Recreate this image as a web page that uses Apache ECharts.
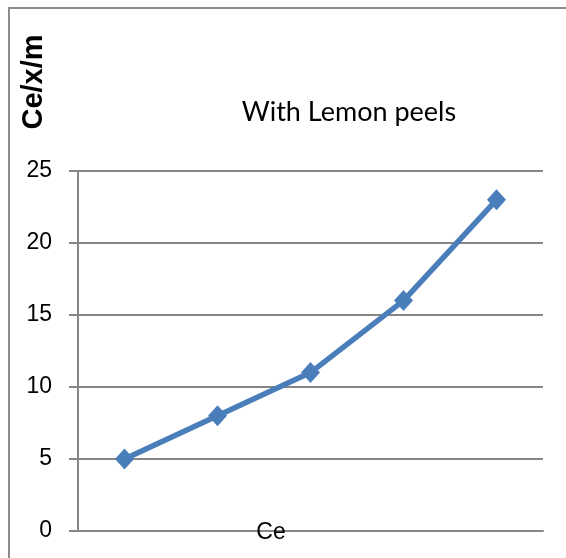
<!DOCTYPE html>
<html>
<head>
<meta charset="utf-8">
<script src="https://cdn.jsdelivr.net/npm/echarts@6/dist/echarts.min.js"></script>
<style>
html,body{margin:0;padding:0;background:#fff;}
#chart{width:566px;height:558px;}
</style>
</head>
<body>
<div id="chart"></div>
<script>
var categories = ['1', '2', '3', '4', '5'];
var values = [5, 8, 11, 16, 23];
var yTicks = [0, 5, 10, 15, 20, 25];
var titleText = 'With Lemon peels';
var yName = 'Ce/x/m';
var xName = 'Ce';

var chart = echarts.init(document.getElementById('chart'), null, {renderer: 'canvas'});
chart.setOption({
  animation: false,
  backgroundColor: '#ffffff',
  graphic: [
    {type: 'polyline', shape: {points: [[9, 558], [9, 8], [566, 8]]}, style: {stroke: '#8c8c8c', lineWidth: 2, fill: null}, z: 0},
    {type: 'text', x: 349, y: 112, style: {text: titleText, font: '27px Lato', fill: '#000', align: 'center', verticalAlign: 'middle'}},
    {type: 'text', x: 34, y: 82, rotation: Math.PI / 2, style: {text: yName, font: 'bold 29px "Liberation Sans"', fill: '#000', align: 'center', verticalAlign: 'middle'}},
    {type: 'text', x: 271, y: 533, style: {text: xName, font: '23px "Liberation Sans"', fill: '#000', align: 'center', verticalAlign: 'middle'}, z: 10}
  ],
  grid: {left: 78, right: 23, top: 171, bottom: 27, containLabel: false},
  xAxis: {
    type: 'category',
    data: categories,
    boundaryGap: true,
    axisLine: {show: true, lineStyle: {color: '#868686', width: 2}},
    axisTick: {show: false},
    axisLabel: {show: false},
    splitLine: {show: false}
  },
  yAxis: {
    type: 'value',
    min: yTicks[0],
    max: yTicks[yTicks.length - 1],
    interval: 5,
    axisLine: {show: true, lineStyle: {color: '#868686', width: 2}},
    axisTick: {show: true, length: 9, lineStyle: {color: '#868686', width: 2}},
    axisLabel: {show: true, margin: 26, fontFamily: 'Liberation Sans', fontSize: 23, color: '#000'},
    splitLine: {show: true, lineStyle: {color: '#868686', width: 2}}
  },
  series: [{
    type: 'line',
    data: values,
    symbol: 'diamond',
    symbolSize: [19, 21],
    lineStyle: {color: '#4a7ebb', width: 5.5},
    itemStyle: {color: '#4a7ebb'},
    smooth: false
  }]
});
</script>
</body>
</html>
